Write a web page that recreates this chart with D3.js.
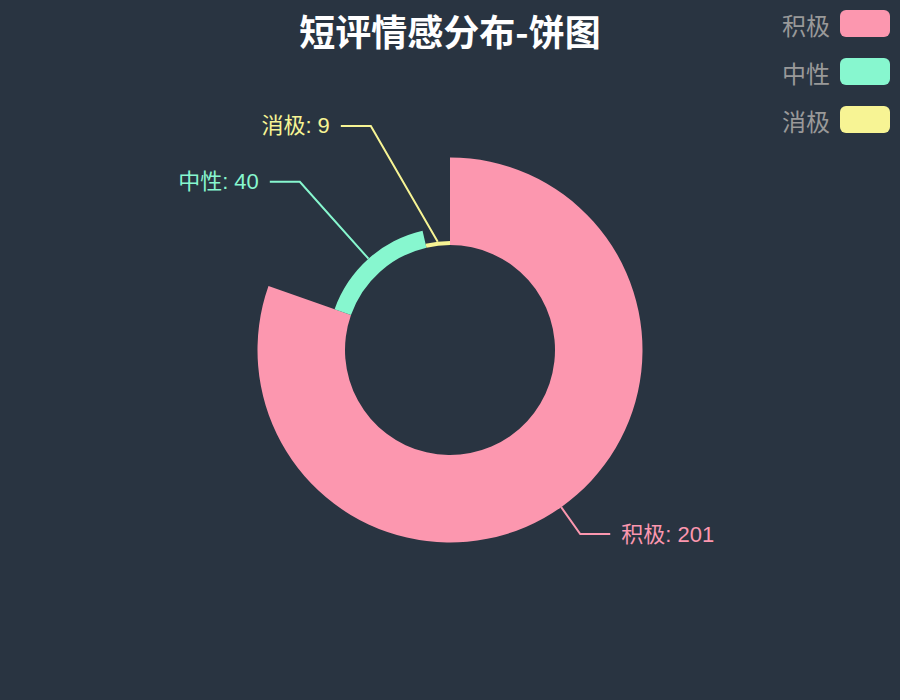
<!DOCTYPE html>
<html>
<head>
<meta charset="utf-8">
<script src="https://cdn.jsdelivr.net/npm/d3@7/dist/d3.min.js"></script>
<style>
  html, body { margin: 0; padding: 0; background: #293441; }
  svg { display: block; }
</style>
</head>
<body>
<svg id="chart" width="900" height="700"></svg>
<script>
// data
const categories = ['积极', '中性', '消极'];
const values = [201, 40, 9];
const colors = ['#fc97af', '#87f7cf', '#f7f494'];
const titleText = '短评情感分布-饼图';

const width = 900, height = 700;
const cx = width / 2, cy = height / 2;
const base = Math.min(width, height) / 2;
const r0 = base * 0.30;   // inner radius
const r1 = base * 0.55;   // outer radius
const len1 = 33, len2 = 30, labelGap = 11;
const fontFamily = '"Noto Sans CJK SC", "Noto Sans", sans-serif';
const labelFont = '"Liberation Sans", "Noto Sans CJK SC", sans-serif';

const svg = d3.select('#chart');

svg.append('rect')
  .attr('width', width)
  .attr('height', height)
  .attr('fill', '#293441');

const data = categories.map((c, i) => ({ name: c, value: values[i], color: colors[i] }));

// rose type "radius": angle and radius both follow the value
const rScale = d3.scaleLinear()
  .domain([0, d3.max(values)])
  .range([r0, r1]);

const pie = d3.pie()
  .sort(null)
  .value(d => d.value)
  .startAngle(0)
  .endAngle(2 * Math.PI);

const arcs = pie(data);

const g = svg.append('g')
  .attr('transform', `translate(${cx},${cy})`);

g.selectAll('path.slice')
  .data(arcs)
  .enter()
  .append('path')
  .attr('class', 'slice')
  .attr('d', d => d3.arc()
    .innerRadius(r0)
    .outerRadius(rScale(d.data.value))(d))
  .attr('fill', d => d.data.color);

// label lines
const minTurn = 120 * Math.PI / 180;
arcs.forEach(d => {
  const mid = (d.startAngle + d.endAngle) / 2;
  const sx = Math.sin(mid), sy = -Math.cos(mid);
  const rs = rScale(d.data.value);
  const p0 = [sx * rs, sy * rs];
  let p1 = [sx * (r1 + len1), sy * (r1 + len1)];
  const dir = sx < 0 ? -1 : 1;
  // keep the bend from getting too sharp
  const ddx = Math.abs(p1[0] - p0[0]), ddy = Math.abs(p1[1] - p0[1]);
  const maxSlope = Math.tan(Math.PI - minTurn);
  if (ddy / Math.max(ddx, 1e-6) > maxSlope) {
    p1 = [p0[0] + dir * ddy / maxSlope, p1[1]];
  }
  const p2 = [p1[0] + dir * len2, p1[1]];

  g.append('path')
    .attr('d', d3.line()([p0, p1, p2]))
    .attr('fill', 'none')
    .attr('stroke', d.data.color)
    .attr('stroke-width', 2);

  g.append('text')
    .attr('x', p2[0] + dir * labelGap)
    .attr('y', p2[1])
    .attr('text-anchor', dir < 0 ? 'end' : 'start')
    .attr('dominant-baseline', 'central')
    .attr('fill', d.data.color)
    .style('font-family', labelFont)
    .style('font-size', '22px')
    .text(`${d.data.name}: ${d.data.value}`);
});

// title
svg.append('text')
  .attr('x', cx)
  .attr('y', 30)
  .attr('text-anchor', 'middle')
  .attr('dominant-baseline', 'central')
  .attr('fill', '#ffffff')
  .style('font-family', fontFamily)
  .style('font-size', '36px')
  .style('font-weight', 'bold')
  .text(titleText);

// legend (top right)
const legend = svg.append('g')
  .attr('transform', 'translate(840,10)');

const item = legend.selectAll('g.item')
  .data(data)
  .enter()
  .append('g')
  .attr('class', 'item')
  .attr('transform', (d, i) => `translate(0,${i * 48})`);

item.append('rect')
  .attr('width', 50)
  .attr('height', 27)
  .attr('rx', 6)
  .attr('fill', d => d.color);

item.append('text')
  .attr('x', -10)
  .attr('y', 14)
  .attr('text-anchor', 'end')
  .attr('dominant-baseline', 'central')
  .attr('fill', '#999999')
  .style('font-family', fontFamily)
  .style('font-size', '24px')
  .text(d => d.name);
</script>
</body>
</html>
